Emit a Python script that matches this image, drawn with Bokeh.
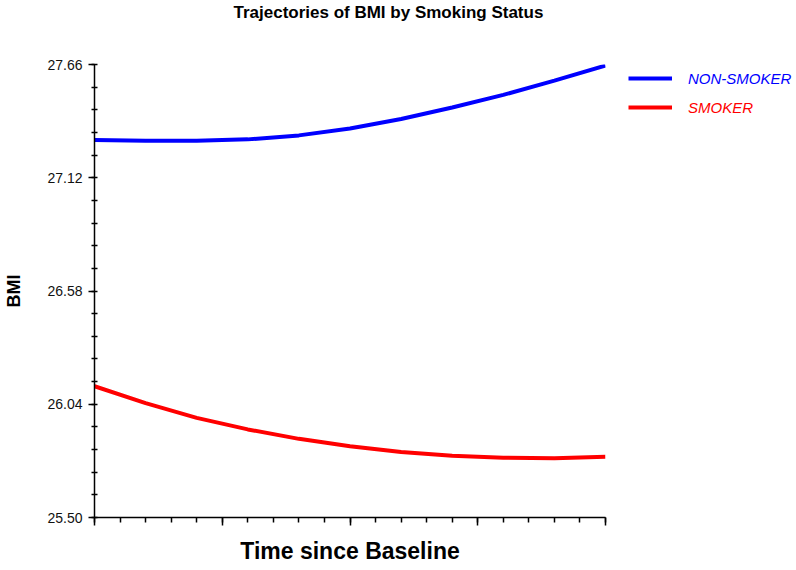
from bokeh.plotting import figure
from bokeh.layouts import row
from bokeh.models import (Range1d, FixedTicker, NumeralTickFormatter, CustomJSTickFormatter,
                          Legend, LegendItem, Title)
from bokeh.embed import file_html
from bokeh.resources import INLINE

# ---- data ----
time = [0, 2, 4, 6, 8, 10, 12, 14, 16, 18, 20]
bmi_non_smoker = [27.300, 27.296, 27.296, 27.303, 27.322, 27.355, 27.400, 27.455, 27.515, 27.583, 27.655]
bmi_smoker = [26.126, 26.045, 25.975, 25.920, 25.875, 25.840, 25.812, 25.795, 25.785, 25.783, 25.790]
y_ticks = [25.50, 26.04, 26.58, 27.12, 27.66]
y_minor = [25.50 + 0.108 * i for i in range(21)]
x_ticks = [0, 5, 10, 15, 20]
x_minor = list(range(21))
series_names = ["NON-SMOKER", "SMOKER"]
series_colors = ["#0000ff", "#ff0000"]
series_values = [bmi_non_smoker, bmi_smoker]

FONT = "Liberation Sans"
H = 566

p = figure(width=620, height=H, output_backend="svg", toolbar_location=None,
           x_range=Range1d(0, 20), y_range=Range1d(25.50, 27.66),
           min_border_left=94, min_border_right=15, min_border_top=64,
           min_border_bottom=48)

# spacer between frame and title (keeps the title near the top edge)
p.add_layout(Title(text=" ", text_font_size="1px", standoff=40), "above")
p.add_layout(Title(text="Trajectories of BMI by Smoking Status", text_font=FONT,
                   text_font_size="17px", text_font_style="bold", text_color="black",
                   align="left", offset=139, standoff=0), "above")

p.outline_line_color = None
p.grid.visible = False
p.background_fill_color = "white"
p.border_fill_color = "white"

# y axis
p.yaxis.ticker = FixedTicker(ticks=y_ticks, minor_ticks=y_minor)
p.yaxis.formatter = NumeralTickFormatter(format="0.00")
p.yaxis.axis_label = "BMI"
p.yaxis.axis_label_text_font = FONT
p.yaxis.axis_label_text_font_size = "18px"
p.yaxis.axis_label_text_font_style = "bold"
p.yaxis.axis_label_text_color = "black"
p.yaxis.axis_label_standoff = 20
p.yaxis.major_label_text_font = FONT
p.yaxis.major_label_text_font_size = "14px"
p.yaxis.major_label_text_color = "#111111"
p.yaxis.major_label_standoff = 6
p.yaxis.major_tick_out = 6
p.yaxis.major_tick_in = 0
p.yaxis.minor_tick_out = 3
p.yaxis.minor_tick_in = 3

# x axis
p.xaxis.ticker = FixedTicker(ticks=x_ticks, minor_ticks=x_minor)
p.xaxis.formatter = CustomJSTickFormatter(code="return ''")
p.xaxis.axis_label = "Time since Baseline"
p.xaxis.axis_label_text_font = FONT
p.xaxis.axis_label_text_font_size = "23px"
p.xaxis.axis_label_text_font_style = "bold"
p.xaxis.axis_label_text_color = "black"
p.xaxis.axis_label_standoff = 12
p.xaxis.major_tick_out = 8
p.xaxis.major_tick_in = 0
p.xaxis.minor_tick_out = 5
p.xaxis.minor_tick_in = 0

for ax in (p.xaxis, p.yaxis):
    ax.axis_line_width = 1.5
    ax.axis_line_color = "black"
    ax.major_tick_line_width = 1.5
    ax.major_tick_line_color = "black"
    ax.minor_tick_line_width = 1.5
    ax.minor_tick_line_color = "black"

for vals, col in zip(series_values, series_colors):
    p.line(time, vals, line_color=col, line_width=4)

# legend panel to the right of the plot (its frame is aligned with the main frame);
# the legend entries refer to copies of the series lying outside this panel's view
q = figure(width=176, height=H, output_backend="svg", toolbar_location=None,
           x_range=Range1d(0, 1), y_range=Range1d(0, 1),
           min_border_left=0, min_border_right=0, min_border_top=64, min_border_bottom=48)
q.axis.visible = False
q.grid.visible = False
q.outline_line_color = None
q.background_fill_color = "white"
q.border_fill_color = "white"

legend_locs = [(8, 429), (8, 400)]
for name, vals, col, loc in zip(series_names, series_values, series_colors, legend_locs):
    proxy = q.line(time, vals, line_color=col, line_width=4)
    lg = Legend(items=[LegendItem(label=name, renderers=[proxy])], location=loc,
                padding=0, margin=0, spacing=0, border_line_color=None,
                background_fill_alpha=0, glyph_width=44, glyph_height=20,
                label_height=20, label_standoff=16,
                label_text_font=FONT, label_text_font_size="15px",
                label_text_font_style="italic", label_text_color=col)
    q.add_layout(lg, "center")

layout = row(p, q, spacing=0)
open("out.html", "w").write(file_html(layout, INLINE))
